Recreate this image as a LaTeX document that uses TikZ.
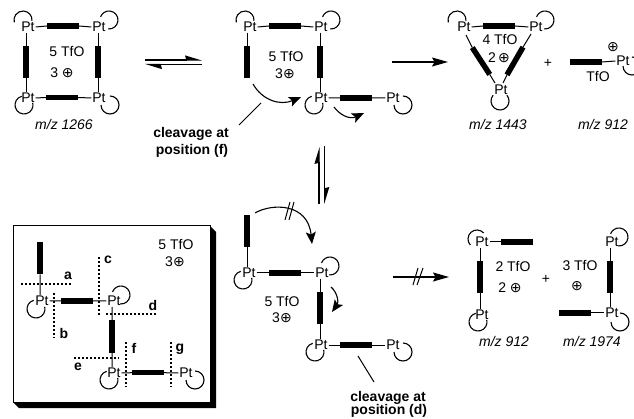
\documentclass[tikz,border=0pt]{standalone}
\usepackage{fontspec}
\setmainfont{Liberation Sans}
\newfontfamily\symfont{DejaVu Sans}
\usetikzlibrary{arrows.meta}
\newcommand{\cplus}{{\symfont\char"2295}}
\tikzset{
  x=1pt,y=-1pt,
  every node/.style={font=\fontsize{14}{14}\selectfont,inner sep=0pt,outer sep=0pt},
  pt/.style={inner sep=1pt},
  hbar/.style={fill=black,minimum width=32pt,minimum height=5.5pt},
  vbar/.style={fill=black,minimum width=5.5pt,minimum height=32pt},
  link/.style={line width=1pt},
  ring/.style={line width=1.1pt},
  lab/.style={font=\fontsize{14}{14}\selectfont\bfseries},
  mz/.style={font=\fontsize{14}{14}\selectfont\itshape},
  dots/.style={line width=1.3pt,dash pattern=on 2.2pt off 1.8pt},
  rx/.style={line width=1.1pt,-{Stealth[length=16pt,width=9pt,inset=2.5pt]}},
  curl/.style={line width=1.1pt,-{Stealth[length=12pt,width=10pt,inset=2.5pt]}},
  harp/.style={line width=1.1pt,-{Stealth[harpoon,length=15pt,width=9pt,inset=1pt]}},
}
% centre x, centre y, direction of the gap, half width of the gap (canvas angles)
\newcommand{\myring}[4]{%
  \pgfmathsetmacro{\ringstart}{#3+#4}%
  \pgfmathsetmacro{\ringdelta}{360-2*#4}%
  \draw[ring] ([shift={(\ringstart:9pt)}]#1,#2) arc[start angle=\ringstart,delta angle=\ringdelta,radius=9pt];}
\begin{document}
\begin{tikzpicture}
\useasboundingbox (0,0) rectangle (634,419);
\clip (0,0) rectangle (634,419);
% square 1
\node[pt] (a1) at (28,27) {Pt}; \node[pt] (a2) at (99,27) {Pt};
\node[pt] (a3) at (28,98) {Pt}; \node[pt] (a4) at (99,98) {Pt};
\node[hbar] (ab1) at (63,26) {}; \node[hbar] (ab2) at (62,97.5) {};
\node[vbar] (ab3) at (26,62.5) {}; \node[vbar] (ab4) at (98,62.5) {};
\draw[link] (a1.east) -- (ab1.west) (ab1.east) -- (a2.west) (a3.east) -- (ab2.west) (ab2.east) -- (a4.west);
\draw[link] (a1.south -| ab3) -- (ab3.north) (ab3.south) -- (a3.north -| ab3) (a2.south -| ab4) -- (ab4.north) (ab4.south) -- (a4.north -| ab4);
\myring{23}{20}{275}{80} \myring{109}{20}{212}{52} \myring{24}{105}{59}{46} \myring{110}{105}{135}{45}
\node (a5) at (67,52) {5 TfO}; \node (a6) at (62,73) {3 \cplus}; \node[mz] (a7) at (64,124) {m/z 1266};
% equilibrium 1
\coordinate (e1) at (145,60); \coordinate (e2) at (202,60); \coordinate (e3) at (202,64.5); \coordinate (e4) at (145,64.5);
\draw[harp] (e1) -- (e2); \draw[harp] (e3) -- (e4);
% structure 2
\node[pt] (b1) at (250,27) {Pt}; \node[pt] (b2) at (321,27) {Pt}; \node[pt] (b3) at (321,98) {Pt}; \node[pt] (b4) at (393,98) {Pt};
\node[hbar] (bb1) at (285,26) {}; \node[hbar] (bb2) at (356,98) {};
\node[vbar] (bb3) at (247,62.5) {}; \node[vbar] (bb4) at (320,62.5) {};
\draw[link] (b1.east) -- (bb1.west) (bb1.east) -- (b2.west) (b3.east) -- (bb2.west) (bb2.east) -- (b4.west);
\draw[link] (b1.south -| bb3) -- (bb3.north) (b2.south -| bb4) -- (bb4.north) (bb4.south) -- (b3.north -| bb4);
\myring{245}{20}{275}{80} \myring{331}{20}{212}{52} \myring{314}{105}{59}{46} \myring{403}{105}{135}{45}
\node (b5) at (286,57) {5 TfO}; \node (b6) at (285,74) {3\cplus};
\coordinate (c1) at (253,84); \coordinate (c2) at (301,97);
\draw[curl] (c1) .. controls (262,100) and (280,106) .. (c2);
\coordinate (c3) at (334,107); \coordinate (c4) at (364,113);
\draw[curl] (c3) .. controls (339,114) and (349,120) .. (c4);
\coordinate (c5) at (239,125); \coordinate (c6) at (261,103);
\draw[link] (c5) -- (c6);
\node[lab] (l1) at (191,134) {cleavage at}; \node[lab] (l2) at (192,151) {position (f)};
% reaction
\coordinate (r1) at (392,62); \coordinate (r2) at (448,62);
\draw[rx] (r1) -- (r2);
% triangle
\node[pt] (t1) at (464,27) {Pt}; \node[pt] (t2) at (536,27) {Pt}; \node[pt] (t3) at (501,90) {Pt};
\node[hbar] (tb1) at (499,26) {};
\node[vbar,rotate=33] (tb2) at (481,61) {}; \node[vbar,rotate=-30] (tb3) at (515,61) {};
\draw[link] (t1.east) -- (tb1.west) (tb1.east) -- (t2.west);
\coordinate (t4) at (466,35); \coordinate (t5) at (495,83); \coordinate (t6) at (531,34); \coordinate (t7) at (503,83);
\draw[link] (t4) -- (tb2.north) (tb2.south) -- (t5) (t6) -- (tb3.north) (tb3.south) -- (t7);
\myring{457}{20}{275}{80} \myring{545}{20}{212}{52} \myring{500}{101}{90}{50}
\node (t8) at (500,40) {4 TfO}; \node (t9) at (499,58) {2\,\cplus};
\node (p1) at (548,63) {+};
\node[hbar] (d1) at (586,62) {}; \node[pt] (d2) at (623,61) {Pt};
\draw[link] (d1.east) -- (d2.west);
\node (d3) at (613,47) {\cplus}; \node (d4) at (598,77) {TfO};
\myring{632}{66}{135}{45}
\node[mz] (m2) at (498,124) {m/z 1443}; \node[mz] (m3) at (603,124) {m/z 912};
% equilibrium 2
\coordinate (v1) at (319,204); \coordinate (v2) at (319,147); \coordinate (v3) at (324.7,146); \coordinate (v4) at (324.7,204);
\draw[harp] (v1) -- (v2); \draw[harp] (v3) -- (v4);
% bottom middle
\node[vbar] (f1) at (247,231.5) {};
\node[pt] (f2) at (249,273) {Pt}; \node[pt] (f3) at (322,273) {Pt};
\node[hbar] (f4) at (285,273) {};
\node[vbar] (f5) at (320,308.5) {};
\node[pt] (f6) at (321,345) {Pt}; \node[pt] (f7) at (393,345) {Pt};
\node[hbar] (f8) at (355.5,345) {};
\draw[link] (f1.south) -- (f2.north -| f1) (f2.east) -- (f4.west) (f4.east) -- (f3.west) (f3.south -| f5) -- (f5.north) (f5.south) -- (f6.north -| f5) (f6.east) -- (f8.west) (f8.east) -- (f7.west);
\myring{243}{280}{59}{46} \myring{330}{266}{212}{52} \myring{315}{352}{59}{46} \myring{403}{352}{135}{45}
\node (f9) at (282,302) {5 TfO}; \node (f10) at (282,318) {3\cplus};
\coordinate (g1) at (255,213); \coordinate (g2) at (312,244);
\draw[curl] (g1) .. controls (272,203) and (308,203) .. (g2);
\coordinate (g3) at (285,220); \coordinate (g4) at (290,202); \coordinate (g5) at (289,220); \coordinate (g6) at (294,202);
\draw[link] (g3) -- (g4) (g5) -- (g6);
\coordinate (g7) at (331,287); \coordinate (g8) at (332,312);
\draw[curl] (g7) .. controls (337,292) and (339,302) .. (g8);
\coordinate (g9) at (358,356); \coordinate (g10) at (374,382);
\draw[link] (g9) -- (g10);
\node[lab] (l3) at (388,398) {cleavage at}; \node[lab] (l4) at (389,411) {position (d)};
% crossed arrow
\coordinate (h1) at (393,277); \coordinate (h2) at (449,277);
\draw[rx] (h1) -- (h2);
\coordinate (h3) at (413,285); \coordinate (h4) at (418,268); \coordinate (h5) at (417,285); \coordinate (h6) at (423,268);
\draw[link] (h3) -- (h4) (h5) -- (h6);
% products bottom right
\node[pt] (i1) at (482,242) {Pt}; \node[hbar] (i2) at (517,242) {}; \node[vbar] (i3) at (480,277.5) {}; \node[pt] (i4) at (482,315) {Pt};
\draw[link] (i1.east) -- (i2.west) (i1.south -| i3) -- (i3.north) (i3.south) -- (i4.north -| i3);
\myring{477}{239}{312}{90} \myring{478}{322}{59}{46}
\node (i5) at (513,267) {2 TfO}; \node (i6) at (510,288) {2 \cplus}; \node (p2) at (546,279) {+};
\node (i7) at (580,266) {3 TfO}; \node (i8) at (577,286) {\cplus};
\node[pt] (j1) at (612,242) {Pt}; \node[vbar] (j2) at (610,277.5) {}; \node[pt] (j3) at (612,313) {Pt}; \node[hbar] (j4) at (574.5,313) {};
\draw[link] (j1.south -| j2) -- (j2.north) (j2.south) -- (j3.north -| j2) (j4.east) -- (j3.west);
\myring{619}{237}{212}{52} \myring{620}{322}{135}{45}
\node[mz] (m4) at (504,341) {m/z 912}; \node[mz] (m5) at (592,341) {m/z 1974};
% box
\fill[black] (13,226) -- (210,226) -- (216,232) -- (216,408) -- (19,408) -- (13,402) -- cycle;
\draw[line width=1pt,fill=white] (13,226) rectangle (210,402);
\node (k1) at (176,245) {5 TfO}; \node (k2) at (175,262) {3\cplus};
\node[vbar] (k3) at (40,258.5) {};
\node[pt] (k4) at (42,301) {Pt}; \node[hbar] (k5) at (77,301) {}; \node[pt] (k6) at (114,301) {Pt};
\node[vbar] (k7) at (112,336.5) {}; \node[pt] (k8) at (114,373) {Pt};
\node[hbar] (k9) at (148,372.7) {}; \node[pt] (k10) at (186,373) {Pt};
\draw[link] (k3.south) -- (k4.north -| k3) (k4.east) -- (k5.west) (k5.east) -- (k6.west) (k6.south -| k7) -- (k7.north) (k7.south) -- (k8.north -| k7) (k8.east) -- (k9.west) (k9.east) -- (k10.west);
\myring{36}{309}{59}{46} \myring{121}{295}{212}{52} \myring{109}{380}{59}{46} \myring{195}{380}{135}{45}
\coordinate (q1) at (21,284); \coordinate (q2) at (71,284); \coordinate (q3) at (54,293); \coordinate (q4) at (54,338);
\coordinate (q5) at (99,257); \coordinate (q6) at (99,315); \coordinate (q7) at (106,314); \coordinate (q8) at (157,314);
\coordinate (q9) at (74,358); \coordinate (q10) at (119,358); \coordinate (q11) at (126,342); \coordinate (q12) at (126,387);
\coordinate (q13) at (171,342); \coordinate (q14) at (171,387);
\draw[dots] (q1) -- (q2); \draw[dots] (q3) -- (q4); \draw[dots] (q5) -- (q6); \draw[dots] (q7) -- (q8);
\draw[dots] (q9) -- (q10); \draw[dots] (q11) -- (q12); \draw[dots] (q13) -- (q14);
\node[lab] (n1) at (68,276) {a}; \node[lab] (n2) at (64,333) {b}; \node[lab] (n3) at (108,260) {c}; \node[lab] (n4) at (153,305) {d};
\node[lab] (n5) at (78,367) {e}; \node[lab] (n6) at (134,348) {f}; \node[lab] (n7) at (180,349) {g};
\end{tikzpicture}
\end{document}
